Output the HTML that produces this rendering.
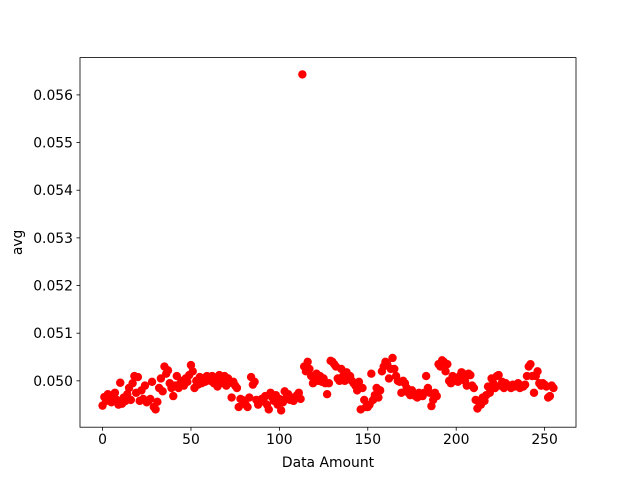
<!DOCTYPE html>
<html><head><meta charset="utf-8"><style>
body{margin:0;background:#fff}
svg{display:block;font-family:"DejaVu Sans","Liberation Sans",sans-serif}
</style></head><body>
<svg id="chart" width="640" height="480" viewBox="0 0 640 480"></svg>
<script>
const xTicks=[0,50,100,150,200,250];
const yTicks=[0.050,0.051,0.052,0.053,0.054,0.055,0.056];
const yTickLabels=["0.050","0.051","0.052","0.053","0.054","0.055","0.056"];
const avgValues=[
.04948,.04966,.04958,.04972,.04962,.04955,.04968,.04975,.04960,.04950,
.04996,.04952,.04965,.04958,.04972,.04985,.04960,.04995,.05010,.04975,
.05008,.04958,.04980,.04962,.04990,.04955,.04958,.04962,.04998,.04945,
.04940,.04956,.04985,.05005,.04978,.05030,.05015,.05022,.04995,.04985,
.04968,.04990,.05010,.04985,.04995,.05000,.04990,.05005,.04998,.05012,
.05033,.05020,.04985,.05000,.04992,.05008,.04995,.05005,.04998,.05010,
.05008,.05000,.05010,.04995,.05005,.04988,.05012,.05002,.04995,.05010,
.04990,.05005,.04996,.04965,.04998,.04990,.04985,.04945,.04962,.04960,
.04958,.04950,.04945,.04965,.05008,.04992,.04998,.04960,.04950,.04955,
.04962,.04958,.04968,.04950,.04940,.04975,.04965,.04958,.04970,.04950,
.04962,.04938,.04955,.04978,.04965,.04972,.04960,.04965,.04958,.04965,
.04970,.04975,.04962,.05643,.05030,.05020,.05040,.05025,.05010,.04995,
.05005,.05015,.05000,.05010,.04998,.05005,.04995,.04972,.04995,.05042,
.05040,.05035,.05030,.05005,.05000,.05025,.05010,.05000,.05018,.05005,
.05010,.05000,.04995,.04990,.04980,.04998,.04940,.04985,.04960,.04945,
.04945,.04950,.05015,.04960,.04970,.04985,.04965,.04980,.05020,.05030,
.05040,.05035,.05005,.05025,.05048,.05025,.05010,.05000,.04998,.04975,
.05000,.04995,.04985,.04975,.04970,.04980,.04972,.04968,.04965,.04975,
.04970,.04968,.04975,.05010,.04985,.04975,.04947,.04960,.04975,.04968,
.05035,.05030,.05043,.05040,.05020,.05035,.05000,.04995,.05010,.05005,
.05000,.04998,.05010,.05018,.05015,.05000,.04990,.05015,.05012,.04990,
.04985,.04960,.04942,.04955,.04950,.04965,.04958,.04970,.04988,.04975,
.05005,.04995,.04985,.05010,.05012,.04990,.04998,.04985,.04995,.04990,
.04990,.04985,.04992,.04988,.04990,.04995,.04985,.04990,.04988,.04992,
.05010,.05030,.05035,.05010,.04975,.05010,.05020,.04995,.04990,.04995,
.04992,.04988,.04965,.04968,.04990,.04985];
const NS="http://www.w3.org/2000/svg";
const svg=document.getElementById('chart');
const L=80,R=576,T=57.6,B=427.2;
const n=avgValues.length;
const xmin=0,xmax=n-1,xm=(xmax-xmin)*0.05;
const ymin=Math.min(...avgValues),ymax=Math.max(...avgValues),ym=(ymax-ymin)*0.05;
function sx(v){return L+(v-(xmin-xm))/((xmax+xm)-(xmin-xm))*(R-L);}
function sy(v){return B-(v-(ymin-ym))/((ymax+ym)-(ymin-ym))*(B-T);}
function mk(tag,attrs){const e=document.createElementNS(NS,tag);for(const k in attrs)e.setAttribute(k,attrs[k]);svg.appendChild(e);return e;}
const pts=document.createElementNS(NS,'g');


avgValues.forEach((v,i)=>{
  const c=document.createElementNS(NS,'circle');
  c.setAttribute('cx',sx(i));c.setAttribute('cy',sy(v));c.setAttribute('r',4.2);c.setAttribute('fill','#ff0000');
  
  
  pts.appendChild(c);
});
svg.appendChild(pts);
const frame=mk('rect',{x:L,y:T,width:R-L,height:B-T,fill:'none',stroke:'#000','stroke-width':0.8});


xTicks.forEach(t=>{
  const x=sx(t);
  mk('line',{x1:x,x2:x,y1:B,y2:B+3.5,stroke:'#000','stroke-width':0.8});
  const tx=mk('text',{x:x,y:B+17,'text-anchor':'middle','font-size':'13.9px'});
  tx.textContent=t;
  
  
});
yTicks.forEach((t,i)=>{
  const y=sy(t);
  mk('line',{x1:L-3.5,x2:L,y1:y,y2:y,stroke:'#000','stroke-width':0.8});
  const tx=mk('text',{x:L-7,y:y+5,'text-anchor':'end','font-size':'13.9px'});
  tx.textContent=yTickLabels[i];
  
  
});
const xt=mk('text',{x:(L+R)/2,y:467,'text-anchor':'middle','font-size':'13.9px'});
xt.textContent='Data Amount';


const yt=mk('text',{x:22,y:(T+B)/2,'text-anchor':'middle','font-size':'13.9px',transform:'rotate(-90 22 '+((T+B)/2)+')'});
yt.textContent='avg';


</script>
</body></html>
